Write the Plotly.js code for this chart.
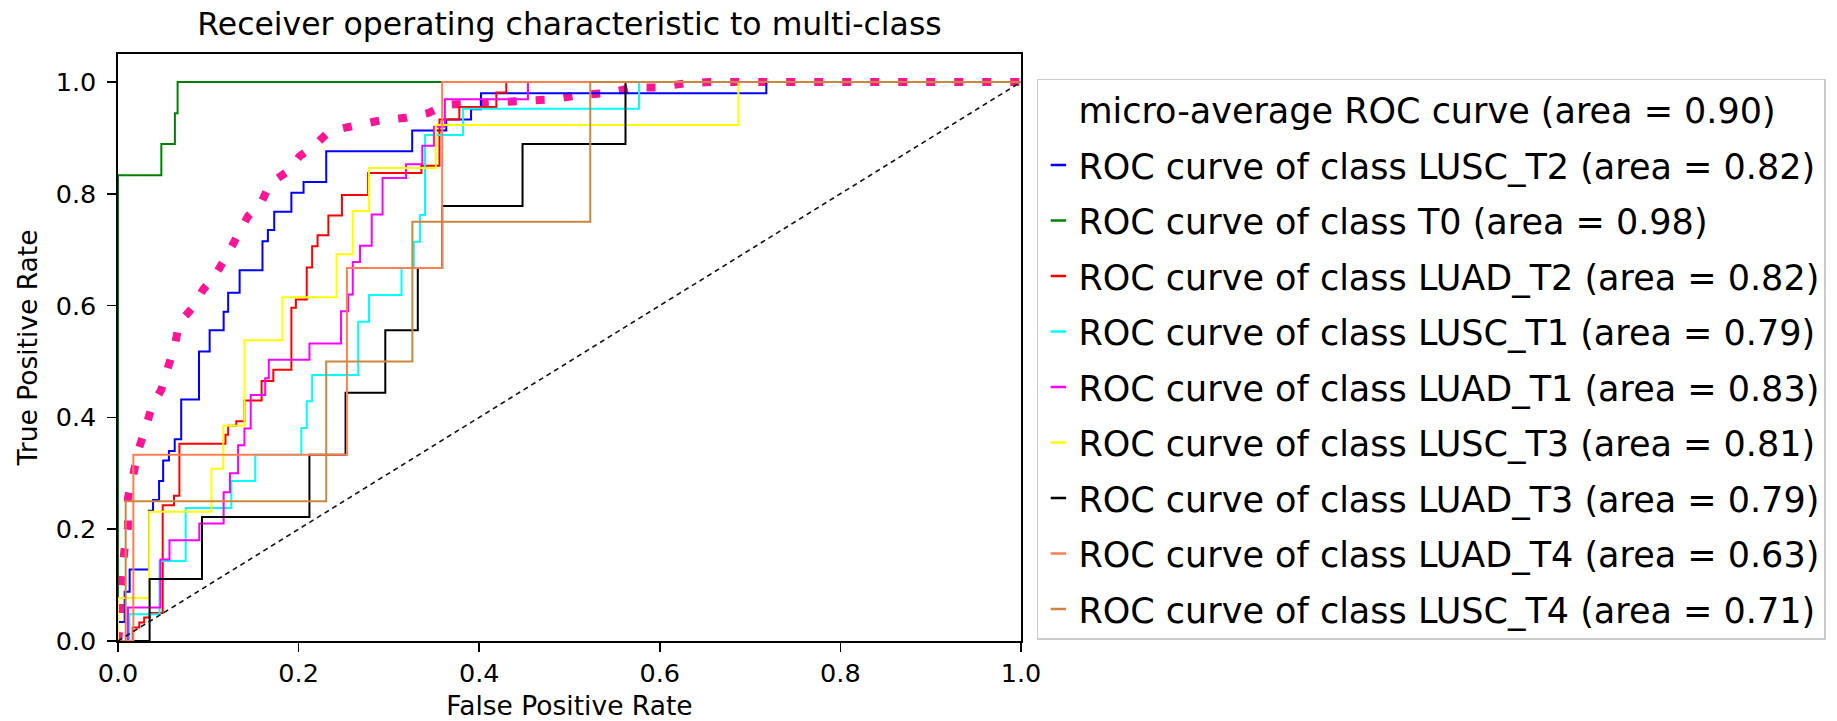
<!DOCTYPE html>
<html>
<head>
<meta charset="utf-8">
<script src="https://cdn.plot.ly/plotly-3.0.1.min.js"></script>
<style>html,body{margin:0;padding:0;background:#fff;}#chart{width:1837px;height:721px;}</style>
</head>
<body>
<div id="chart"></div>
<script>
// ---- data ----
var classNames = ["LUSC_T2", "T0", "LUAD_T2", "LUSC_T1", "LUAD_T1", "LUSC_T3", "LUAD_T3", "LUAD_T4", "LUSC_T4"];
var classAreas = [0.82, 0.98, 0.82, 0.79, 0.83, 0.81, 0.79, 0.63, 0.71];
var classColors = ["blue", "green", "red", "aqua", "fuchsia", "yellow", "black", "coral", "peru"];
var microArea = 0.90;

var microFpr = [0, 0.002, 0.002, 0.004, 0.007, 0.011, 0.011, 0.017, 0.022, 0.030, 0.037, 0.048, 0.055, 0.063, 0.068, 0.084, 0.094, 0.109, 0.120, 0.131, 0.144, 0.159, 0.168, 0.188, 0.201, 0.219, 0.234, 0.260, 0.290, 0.319, 0.343, 0.363, 0.397, 0.426, 0.456, 0.483, 0.512, 0.543, 0.569, 0.596, 0.626, 0.655, 1];
var microTpr = [0, 0.027, 0.068, 0.110, 0.161, 0.203, 0.256, 0.298, 0.339, 0.378, 0.417, 0.450, 0.486, 0.530, 0.569, 0.599, 0.628, 0.658, 0.688, 0.721, 0.760, 0.785, 0.818, 0.840, 0.867, 0.888, 0.912, 0.921, 0.931, 0.936, 0.944, 0.959, 0.962, 0.963, 0.968, 0.969, 0.977, 0.980, 0.990, 0.990, 0.997, 1.0, 1.0];

var fprLUSC_T2 = [0, 0, 0.0074, 0.0129, 0.0343, 0.0388, 0.0455, 0.050, 0.0564, 0.0628, 0.070, 0.0897, 0.1015, 0.117, 0.122, 0.1347, 0.160, 0.166, 0.173, 0.192, 0.2055, 0.2306, 0.3258, 0.3635, 0.391, 0.402, 0.718, 1];
var tprLUSC_T2 = [0, 0.034, 0.088, 0.128, 0.233, 0.252, 0.286, 0.323, 0.340, 0.361, 0.432, 0.518, 0.556, 0.589, 0.623, 0.663, 0.715, 0.735, 0.768, 0.802, 0.821, 0.876, 0.913, 0.933, 0.951, 0.980, 1, 1];

var fprT0 = [0, 0, 0.048, 0.063, 0.066, 1];
var tprT0 = [0, 0.833, 0.889, 0.944, 1, 1];

var fprLUAD_T2 = [0, 0.0163, 0.0236, 0.029, 0.035, 0.0495, 0.062, 0.068, 0.119, 0.122, 0.131, 0.140, 0.159, 0.172, 0.192, 0.197, 0.209, 0.215, 0.221, 0.233, 0.248, 0.277, 0.336, 0.356, 0.378, 0.419, 0.430, 1];
var tprLUAD_T2 = [0, 0.024, 0.033, 0.042, 0.050, 0.243, 0.260, 0.353, 0.369, 0.385, 0.393, 0.430, 0.465, 0.485, 0.596, 0.611, 0.668, 0.706, 0.726, 0.761, 0.798, 0.837, 0.850, 0.933, 0.955, 0.981, 1, 1];

var fprLUSC_T1 = [0, 0.0126, 0.046, 0.075, 0.1255, 0.152, 0.203, 0.209, 0.215, 0.266, 0.278, 0.314, 0.3276, 0.3345, 0.340, 0.382, 0.577, 1];
var tprLUSC_T1 = [0, 0.048, 0.143, 0.238, 0.286, 0.333, 0.381, 0.429, 0.476, 0.571, 0.619, 0.667, 0.714, 0.762, 0.905, 0.952, 1, 1];

var fprLUAD_T1 = [0, 0.011, 0.047, 0.057, 0.090, 0.117, 0.124, 0.133, 0.140, 0.147, 0.163, 0.167, 0.212, 0.247, 0.255, 0.260, 0.268, 0.281, 0.293, 0.319, 0.337, 0.350, 0.362, 0.454, 1];
var tprLUAD_T1 = [0, 0.060, 0.146, 0.180, 0.210, 0.266, 0.300, 0.350, 0.380, 0.440, 0.470, 0.503, 0.532, 0.590, 0.620, 0.678, 0.707, 0.763, 0.828, 0.853, 0.886, 0.920, 0.969, 1, 1];

var fprLUSC_T3 = [0, 0, 0.0345, 0.1034, 0.1165, 0.140, 0.182, 0.242, 0.260, 0.278, 0.352, 0.687, 1];
var tprLUSC_T3 = [0, 0.077, 0.231, 0.308, 0.385, 0.538, 0.615, 0.692, 0.769, 0.846, 0.923, 1, 1];

var fprLUAD_T3 = [0, 0.035, 0.093, 0.212, 0.252, 0.296, 0.332, 0.359, 0.448, 0.562, 1];
var tprLUAD_T3 = [0, 0.111, 0.222, 0.333, 0.444, 0.556, 0.667, 0.778, 0.889, 1, 1];

var fprLUAD_T4 = [0, 0.017, 0.2535, 0.359, 1];
var tprLUAD_T4 = [0, 0.333, 0.667, 1, 1];

var fprLUSC_T4 = [0, 0.0085, 0.2306, 0.326, 0.523, 1];
var tprLUSC_T4 = [0, 0.25, 0.5, 0.75, 1, 1];

var chanceX = [0, 1];
var chanceY = [0, 1];

var axisTicks = [0, 0.2, 0.4, 0.6, 0.8, 1.0];

// ---- build traces ----
var classFpr = [fprLUSC_T2, fprT0, fprLUAD_T2, fprLUSC_T1, fprLUAD_T1, fprLUSC_T3, fprLUAD_T3, fprLUAD_T4, fprLUSC_T4];
var classTpr = [tprLUSC_T2, tprT0, tprLUAD_T2, tprLUSC_T1, tprLUAD_T1, tprLUSC_T3, tprLUAD_T3, tprLUAD_T4, tprLUSC_T4];

var traces = [];
traces.push({
  x: microFpr, y: microTpr, type: 'scatter', mode: 'lines',
  line: {color: 'deeppink', width: 8, dash: '9px,19px'},
  showlegend: false, hoverinfo: 'skip'
});
for (var i = 0; i < classNames.length; i++) {
  traces.push({
    x: classFpr[i], y: classTpr[i], type: 'scatter', mode: 'lines',
    line: {color: classColors[i], width: 2, shape: 'hv'},
    showlegend: false, hoverinfo: 'skip'
  });
}
traces.push({
  x: chanceX, y: chanceY, type: 'scatter', mode: 'lines',
  line: {color: '#111', width: 1.6, dash: '5px,4px'},
  showlegend: false, hoverinfo: 'skip'
});

// legend entries (short marks like the reference)
var legendNames = ['micro-average ROC curve (area = ' + microArea.toFixed(2) + ')'];
var legendColors = ['rgba(0,0,0,0)'];
for (var j = 0; j < classNames.length; j++) {
  legendNames.push('ROC curve of class ' + classNames[j] + ' (area = ' + classAreas[j].toFixed(2) + ')');
  legendColors.push(classColors[j]);
}
for (var k = 0; k < legendNames.length; k++) {
  traces.push({
    x: [null], y: [null], type: 'scatter', mode: 'markers',
    name: legendNames[k], legendgroup: 'g' + k,
    marker: {symbol: 'line-ew-open', size: 11, color: legendColors[k], line: {color: legendColors[k], width: 2.5}},
    showlegend: true, hoverinfo: 'skip'
  });
}

var layout = {
  width: 1837, height: 721,
  margin: {l: 118, r: 815, t: 54, b: 80, pad: 0},
  paper_bgcolor: '#fff', plot_bgcolor: '#fff',
  font: {family: 'DejaVu Sans', color: '#000'},
  title: {
    text: 'Receiver operating characteristic to multi-class',
    font: {family: 'DejaVu Sans', size: 31.5, color: '#000'},
    x: 0.5, xref: 'paper', xanchor: 'center',
    y: 1 - 24 / 721, yref: 'container', yanchor: 'middle'
  },
  xaxis: {
    range: [0, 1], tickvals: axisTicks, tickformat: '.1f',
    ticks: 'outside', ticklen: 9, tickwidth: 1.5, tickcolor: '#000',
    showline: true, mirror: true, linecolor: '#000', linewidth: 1.6,
    showgrid: false, zeroline: false,
    tickfont: {size: 25.5, color: '#000'},
    title: {text: 'False Positive Rate', font: {size: 26.5, color: '#000'}, standoff: 18}
  },
  yaxis: {
    range: [0, 1.05], tickvals: axisTicks, tickformat: '.1f',
    ticks: 'outside', ticklen: 9, tickwidth: 1.5, tickcolor: '#000',
    showline: true, mirror: true, linecolor: '#000', linewidth: 1.6,
    showgrid: false, zeroline: false,
    tickfont: {size: 25.5, color: '#000'},
    ticklabelstandoff: 6,
    title: {text: 'True Positive Rate', font: {size: 26.5, color: '#000'}, standoff: 10}
  },
  showlegend: true,
  legend: {
    x: 1.0165, y: 0.958, xanchor: 'left', yanchor: 'top',
    bgcolor: '#fff', bordercolor: '#cccccc', borderwidth: 1.5,
    font: {family: 'DejaVu Sans', size: 35, color: '#000'},
    traceorder: 'grouped', tracegroupgap: 7
  }
};

Plotly.newPlot('chart', traces, layout, {displayModeBar: false, staticPlot: true});
</script>
</body>
</html>
